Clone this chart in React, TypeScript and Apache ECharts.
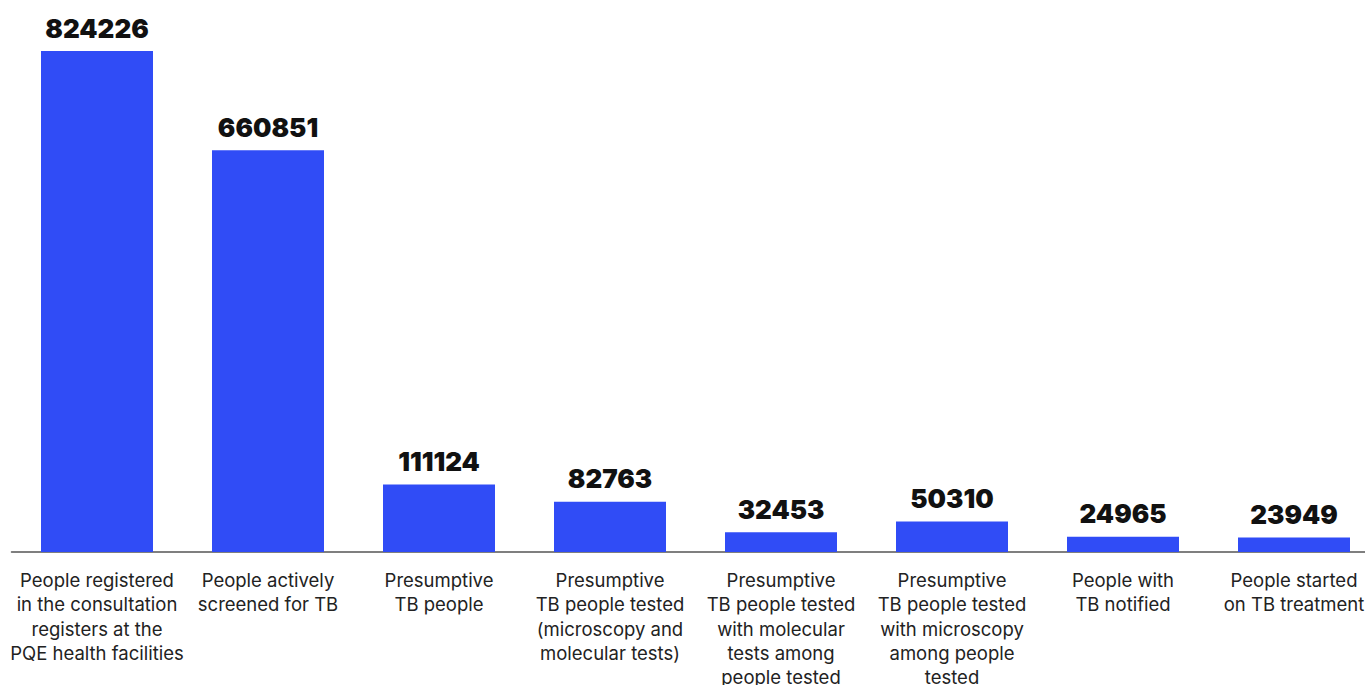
import React, { useEffect, useRef } from "react";
import * as echarts from "echarts";

const categories = [
  "People registered\nin the consultation\nregisters at the\nPQE health facilities",
  "People actively\nscreened for TB",
  "Presumptive\nTB people",
  "Presumptive\nTB people tested\n(microscopy and\nmolecular tests)",
  "Presumptive\nTB people tested\nwith molecular\ntests among\npeople tested",
  "Presumptive\nTB people tested\nwith microscopy\namong people\ntested",
  "People with\nTB notified",
  "People started\non TB treatment",
];

const values = [824226, 660851, 111124, 82763, 32453, 50310, 24965, 23949];

export default function App() {
  const ref = useRef<HTMLDivElement>(null);
  useEffect(() => {
    if (!ref.current) return;
    const chart = echarts.init(ref.current, null, { renderer: "svg" });
    chart.setOption({
      animation: false,
      grid: {
        left: 11.5,
        right: -14.5,
        top: 51,
        bottom: 133,
        containLabel: false,
        outerBoundsMode: "none",
      },
      xAxis: {
        type: "category",
        data: categories,
        axisLine: { show: true, lineStyle: { color: "#555555", width: 1.5 } },
        axisTick: { show: false },
        axisLabel: {
          interval: 0,
          margin: 16,
          fontFamily: "Inter",
          fontSize: 18.5,
          lineHeight: 24.3,
          color: "#222222",
          align: "center",
        },
      },
      yAxis: {
        type: "value",
        min: 0,
        max: 824226,
        show: false,
        splitLine: { show: false },
      },
      series: [
        {
          type: "bar",
          data: values,
          barWidth: 112,
          itemStyle: { color: "#304cf6" },
          label: {
            show: true,
            position: "top",
            distance: 10,
            fontFamily: "Inter",
            fontWeight: 900,
            fontSize: 26,
            color: "#111111",
          },
        },
      ],
    });
    return () => chart.dispose();
  }, []);
  return (
    <div
      ref={ref}
      style={{ position: "fixed", left: 0, top: 0, width: 1365, height: 685, background: "#ffffff" }}
    />
  );
}
